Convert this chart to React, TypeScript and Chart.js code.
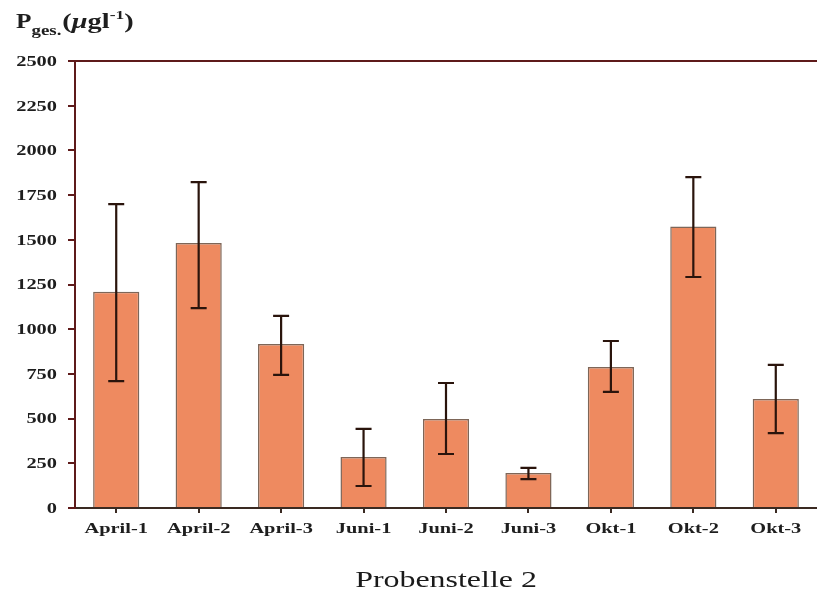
import React, { useEffect, useRef } from "react";
import { Chart, registerables } from "chart.js";

Chart.register(...registerables);

const categories = ["April-1", "April-2", "April-3", "Juni-1", "Juni-2", "Juni-3", "Okt-1", "Okt-2", "Okt-3"];
const values = [1210, 1482, 917, 285, 498, 196, 789, 1575, 610];
const errLow = [710, 1118, 744, 123, 302, 162, 649, 1292, 419];
const errHigh = [1700, 1823, 1074, 442, 699, 224, 934, 1851, 800];
const yTicks = [0, 250, 500, 750, 1000, 1250, 1500, 1750, 2000, 2250, 2500];
const xTitle = "Probenstelle 2";

const SERIF = "'Liberation Serif', 'DejaVu Serif', serif";
const SX = 1.36;

function stretchText(ctx: CanvasRenderingContext2D, text: string, x: number, y: number, align: "left" | "center" | "right", sx: number) {
  const w = ctx.measureText(text).width * sx;
  let left = x;
  if (align === "center") left = x - w / 2;
  else if (align === "right") left = x - w;
  ctx.save();
  ctx.translate(left, y);
  ctx.scale(sx, 1);
  ctx.textAlign = "left";
  ctx.fillText(text, 0, 0);
  ctx.restore();
  return w;
}

const decorPlugin = {
  id: "decor",
  afterDatasetsDraw(chart: any) {
    const ctx = chart.ctx;
    const xs = chart.scales.x;
    const ys = chart.scales.y;
    const area = chart.chartArea;
    ctx.save();
    // error bars
    ctx.strokeStyle = "#2a140c";
    ctx.lineWidth = 2.2;
    for (let i = 0; i < categories.length; i++) {
      const x = xs.getPixelForValue(i);
      const yl = ys.getPixelForValue(errLow[i]);
      const yh = ys.getPixelForValue(errHigh[i]);
      ctx.beginPath();
      ctx.moveTo(x, yl);
      ctx.lineTo(x, yh);
      ctx.moveTo(x - 8, yl);
      ctx.lineTo(x + 8, yl);
      ctx.moveTo(x - 8, yh);
      ctx.lineTo(x + 8, yh);
      ctx.stroke();
    }
    // top border
    ctx.strokeStyle = "#5e1a1a";
    ctx.lineWidth = 2;
    ctx.beginPath();
    ctx.moveTo(area.left - 1, area.top);
    ctx.lineTo(chart.width, area.top);
    ctx.stroke();

    ctx.fillStyle = "#1e1e1e";
    // y tick labels
    ctx.font = `bold 15px ${SERIF}`;
    ctx.textBaseline = "middle";
    for (const v of yTicks) {
      stretchText(ctx, String(v), 57, ys.getPixelForValue(v) + 1, "right", SX);
    }
    // x tick labels
    ctx.font = `bold 15px ${SERIF}`;
    ctx.textBaseline = "alphabetic";
    for (let i = 0; i < categories.length; i++) {
      stretchText(ctx, categories[i], xs.getPixelForValue(i), 533, "center", SX);
    }
    // x title
    ctx.fillStyle = "#1a1a1a";
    ctx.font = `24px ${SERIF}`;
    ctx.textBaseline = "alphabetic";
    stretchText(ctx, xTitle, 446, 587, "center", 1.33);
    // y title
    let cx = 16;
    const base = 28;
    ctx.fillStyle = "#1e1e1e";
    ctx.font = `bold 22px ${SERIF}`;
    cx += stretchText(ctx, "P", cx, base, "left", 1.15);
    ctx.font = `bold 14px ${SERIF}`;
    cx += stretchText(ctx, "ges.", cx, base + 7, "left", 1.35) + 1;
    ctx.font = `bold 21px ${SERIF}`;
    cx += stretchText(ctx, "(", cx, base, "left", 1.35);
    ctx.font = `bold italic 21px ${SERIF}`;
    cx += stretchText(ctx, "\u03bc", cx, base, "left", 1.35);
    ctx.font = `bold 21px ${SERIF}`;
    cx += stretchText(ctx, "gl", cx, base, "left", 1.35);
    ctx.font = `bold 13px ${SERIF}`;
    cx += stretchText(ctx, "-1", cx, base - 9, "left", 1.35);
    ctx.font = `bold 21px ${SERIF}`;
    stretchText(ctx, ")", cx, base, "left", 1.35);
    ctx.restore();
  },
};

export default function App() {
  const ref = useRef<HTMLCanvasElement | null>(null);
  useEffect(() => {
    if (!ref.current) return;
    const chart = new Chart(ref.current, {
      type: "bar",
      data: {
        labels: categories,
        datasets: [
          {
            data: values,
            backgroundColor: "#ee8a60",
            borderColor: "#7d6658",
            borderWidth: 1.5,
            barPercentage: 0.56,
            categoryPercentage: 1,
          },
        ],
      },
      options: {
        animation: false,
        responsive: false,
        maintainAspectRatio: false,
        layout: { padding: { top: 61, left: 0, right: 0, bottom: 0 } },
        plugins: { legend: { display: false }, tooltip: { enabled: false }, title: { display: false } },
        scales: {
          x: {
            grid: { display: true, drawOnChartArea: false, drawTicks: true, tickLength: 5, offset: false, color: "#3a2a22", lineWidth: 2 },
            border: { display: true, color: "#3a2a22", width: 2 },
            ticks: { display: false, autoSkip: false },
            afterFit: (s: any) => { s.height = 84; },
          },
          y: {
            min: 0,
            max: 2500,
            afterBuildTicks: (s: any) => { s.ticks = yTicks.map((v) => ({ value: v })); },
            grid: { display: true, drawOnChartArea: false, drawTicks: true, tickLength: 7, color: "#5e1a1a", lineWidth: 2 },
            border: { display: true, color: "#5e1a1a", width: 2 },
            ticks: { display: false },
            afterFit: (s: any) => { s.width = 75; },
          },
        },
      },
      plugins: [decorPlugin],
    });
    return () => chart.destroy();
  }, []);
  return (
    <div style={{ position: "absolute", left: 0, top: 0, width: 817, height: 592, background: "#fff" }}>
      <canvas ref={ref} width={817} height={592} style={{ width: 817, height: 592 }} />
    </div>
  );
}
